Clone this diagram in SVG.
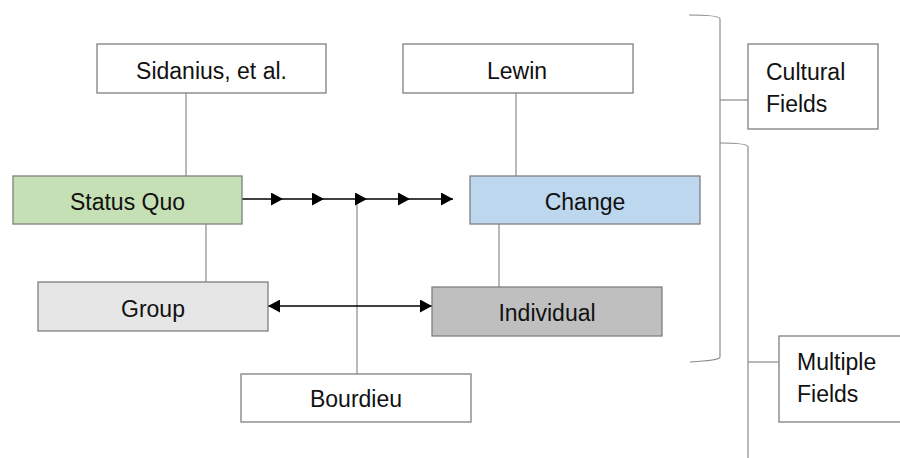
<svg xmlns="http://www.w3.org/2000/svg" width="900" height="458" viewBox="0 0 900 458">
  <style>
    .box { stroke: #7f7f7f; stroke-width: 1.3; }
    .lbl { font-family: "Liberation Sans", Arial, sans-serif; font-size: 23px; fill: #111; }
    .mid { text-anchor: middle; }
    .link { stroke: #8a8a8a; stroke-width: 1.2; fill: none; }
    .arrow { stroke: #000; stroke-width: 1.5; fill: none; }
  </style>
  <defs>
    <marker id="tri" viewBox="0 0 12 13" refX="12" refY="6.5" markerWidth="12" markerHeight="13" markerUnits="userSpaceOnUse" orient="auto-start-reverse">
      <path d="M0,0 L12,6.5 L0,13 Z" fill="#000"/>
    </marker>
  </defs>

  <rect width="900" height="458" fill="#fff"/>

  <g id="connectors">
    <line class="link" x1="186" y1="93" x2="186" y2="176"/>
    <line class="link" x1="516" y1="93" x2="516" y2="176"/>
    <line class="link" x1="206" y1="224" x2="206" y2="282"/>
    <line class="link" x1="499" y1="224" x2="499" y2="287"/>
    <line class="link" x1="357" y1="199" x2="357" y2="374"/>
    <!-- chained arrows from Status Quo toward Change -->
    <line class="arrow" x1="242" y1="199" x2="283" y2="199" marker-end="url(#tri)"/>
    <line class="arrow" x1="283" y1="199" x2="324" y2="199" marker-end="url(#tri)"/>
    <line class="arrow" x1="324" y1="199" x2="367" y2="199" marker-end="url(#tri)"/>
    <line class="arrow" x1="367" y1="199" x2="410" y2="199" marker-end="url(#tri)"/>
    <line class="arrow" x1="410" y1="199" x2="453" y2="199" marker-end="url(#tri)"/>
    <!-- two-way arrow Group / Individual -->
    <line class="arrow" x1="268" y1="306" x2="432" y2="306" marker-start="url(#tri)" marker-end="url(#tri)"/>
    <!-- brackets -->
    <path class="link" d="M689,15 C706,15 720,16 720,19 V357 C720,360 706,361 690,362"/>
    <line class="link" x1="720" y1="100" x2="748" y2="100"/>
    <path class="link" d="M720,143 C736,143 748,144 748,147 V458"/>
    <line class="link" x1="748" y1="362" x2="779" y2="362"/>
  </g>

  <g id="sidanius">
    <rect class="box" x="97" y="44" width="229" height="49" fill="#fff"/>
    <text class="lbl mid" x="211.5" y="79">Sidanius, et al.</text>
  </g>
  <g id="lewin">
    <rect class="box" x="403" y="44" width="230" height="49" fill="#fff"/>
    <text class="lbl mid" x="517" y="79">Lewin</text>
  </g>
  <g id="status-quo">
    <rect class="box" x="13" y="176" width="229" height="48" fill="#c5e0b4"/>
    <text class="lbl mid" x="127.5" y="210">Status Quo</text>
  </g>
  <g id="change">
    <rect class="box" x="470" y="176" width="230" height="48" fill="#bdd7ee"/>
    <text class="lbl mid" x="585" y="210">Change</text>
  </g>
  <g id="group">
    <rect class="box" x="38" y="282" width="230" height="49" fill="#e6e6e6"/>
    <text class="lbl mid" x="153" y="317">Group</text>
  </g>
  <g id="individual">
    <rect class="box" x="432" y="287" width="230" height="49" fill="#bfbfbf"/>
    <text class="lbl mid" x="547" y="321">Individual</text>
  </g>
  <g id="bourdieu">
    <rect class="box" x="241" y="374" width="230" height="48" fill="#fff"/>
    <text class="lbl mid" x="356" y="407">Bourdieu</text>
  </g>
  <g id="cultural-fields">
    <rect class="box" x="748" y="44" width="130" height="85" fill="#fff"/>
    <text class="lbl" x="766" y="80">Cultural</text>
    <text class="lbl" x="766" y="112">Fields</text>
  </g>
  <g id="multiple-fields">
    <rect class="box" x="779" y="336" width="124" height="86" fill="#fff"/>
    <text class="lbl" x="797" y="370">Multiple</text>
    <text class="lbl" x="797" y="402">Fields</text>
  </g>
</svg>
